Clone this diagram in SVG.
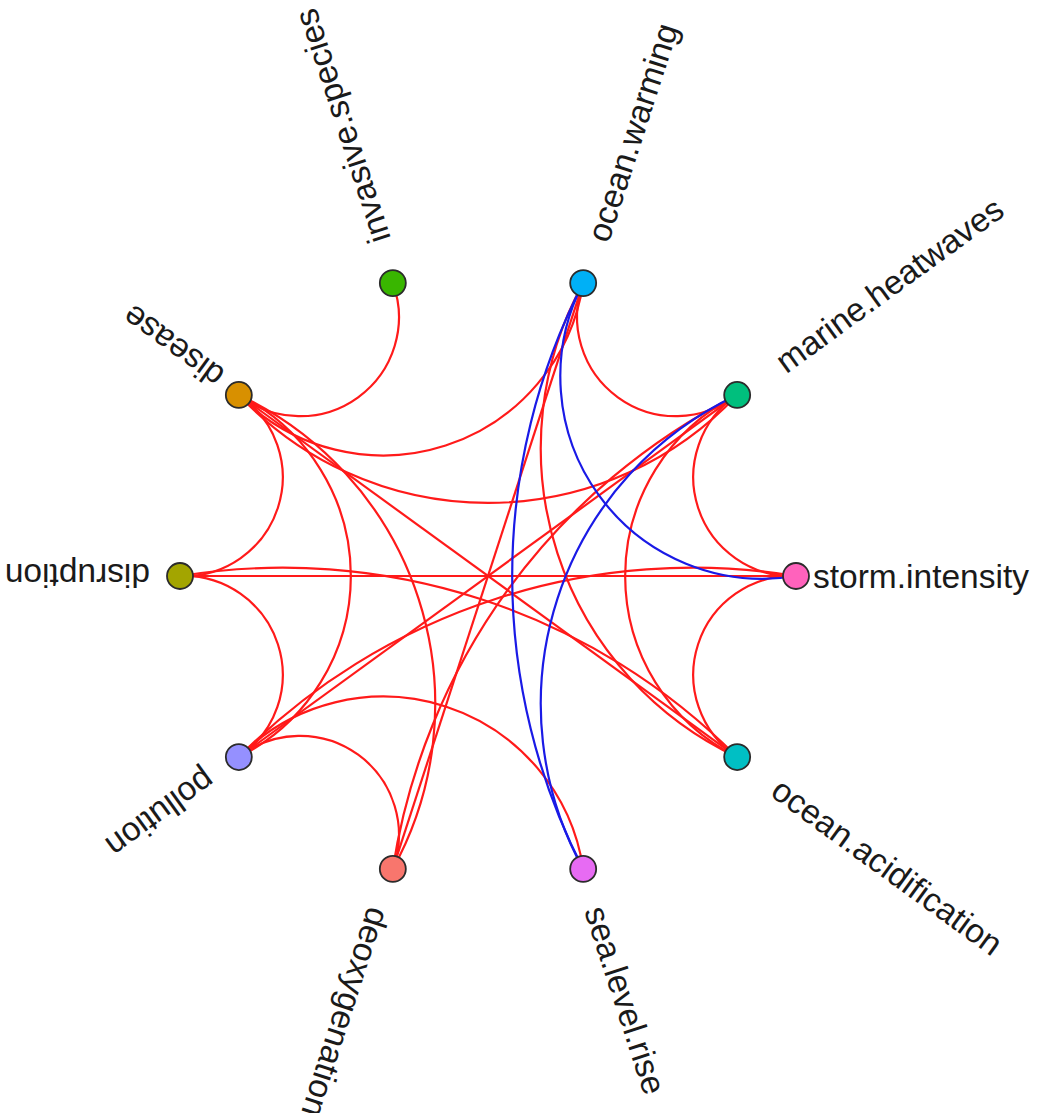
<svg xmlns="http://www.w3.org/2000/svg" width="1050" height="1113" viewBox="0 0 1050 1113">
<style>
.e{fill:none;stroke-width:2.2}
.r{stroke:#ff1a1a}
.b{stroke:#1a1ae6}
.n{stroke:#2b2b2b;stroke-width:1.8}
.l{font-family:"Liberation Sans",Arial,sans-serif;font-size:33.5px;fill:#1a1a1a}
</style>
<rect width="1050" height="1113" fill="#ffffff"/>
<g id="edges">
<path class="e r" d="M238.82,394.96 A98.9,98.9 0 0 0 392.82,283.07"/>
<path class="e r" d="M180,576 A98.9,98.9 0 0 0 238.82,394.96"/>
<path class="e r" d="M238.82,757.04 A202.3,202.3 0 0 0 238.82,394.96"/>
<path class="e r" d="M392.82,868.93 A341.5,341.5 0 0 0 238.82,394.96"/>
<path class="e r" d="M238.82,394.96 L737.18,757.04"/>
<path class="e r" d="M238.82,394.96 A341.5,341.5 0 0 0 737.18,394.96"/>
<path class="e r" d="M238.82,394.96 A202.3,202.3 0 0 0 583.18,283.07"/>
<path class="e r" d="M238.82,757.04 A98.9,98.9 0 0 0 180,576"/>
<path class="e r" d="M180,576 L796,576"/>
<path class="e r" d="M737.18,757.04 A639.8,639.8 0 0 0 180,576"/>
<path class="e r" d="M392.82,868.93 A98.9,98.9 0 0 0 238.82,757.04"/>
<path class="e r" d="M583.18,868.93 A202.3,202.3 0 0 0 238.82,757.04"/>
<path class="e r" d="M796,576 A639.8,639.8 0 0 0 238.82,757.04"/>
<path class="e r" d="M737.18,394.96 L238.82,757.04"/>
<path class="e r" d="M583.18,283.07 L392.82,868.93"/>
<path class="e r" d="M737.18,394.96 A639.8,639.8 0 0 0 392.82,868.93"/>
<path class="e r" d="M583.18,283.07 A98.9,98.9 0 0 0 737.18,394.96"/>
<path class="e r" d="M583.18,283.07 A341.5,341.5 0 0 0 737.18,757.04"/>
<path class="e r" d="M737.18,394.96 A98.9,98.9 0 0 0 796,576"/>
<path class="e r" d="M737.18,394.96 A202.3,202.3 0 0 0 737.18,757.04"/>
<path class="e r" d="M796,576 A98.9,98.9 0 0 0 737.18,757.04"/>
<path class="e b" d="M583.18,283.07 A202.3,202.3 0 0 0 796,576"/>
<path class="e b" d="M583.18,283.07 A639.8,639.8 0 0 0 583.18,868.93"/>
<path class="e b" d="M737.18,394.96 A341.5,341.5 0 0 0 583.18,868.93"/>
</g>
<g id="node-ocean-warming"><circle class="n" cx="583.18" cy="283.07" r="13" fill="#00B0F6"/><text class="l" transform="translate(583.18,283.07) rotate(-72)" x="45" dy="0.36em">ocean.warming</text></g>
<g id="node-marine-heatwaves"><circle class="n" cx="737.18" cy="394.96" r="13" fill="#00BF7D"/><text class="l" transform="translate(737.18,394.96) rotate(-36)" x="52" dy="0.36em">marine.heatwaves</text></g>
<g id="node-storm-intensity"><circle class="n" cx="796" cy="576" r="13" fill="#FF62BC"/><text class="l" transform="translate(796,576) rotate(0)" x="17" dy="0.36em">storm.intensity</text></g>
<g id="node-ocean-acidification"><circle class="n" cx="737.18" cy="757.04" r="13" fill="#00BFC4"/><text class="l" transform="translate(737.18,757.04) rotate(36)" x="48" dy="0.36em">ocean.acidification</text></g>
<g id="node-sea-level-rise"><circle class="n" cx="583.18" cy="868.93" r="13" fill="#E76BF3"/><text class="l" transform="translate(583.18,868.93) rotate(72)" x="40" dy="0.36em">sea.level.rise</text></g>
<g id="node-deoxygenation"><circle class="n" cx="392.82" cy="868.93" r="13" fill="#F8766D"/><text class="l" transform="translate(392.82,868.93) rotate(108)" x="42" dy="0.36em">deoxygenation</text></g>
<g id="node-pollution"><circle class="n" cx="238.82" cy="757.04" r="13" fill="#9590FF"/><text class="l" transform="translate(238.82,757.04) rotate(144)" x="34" dy="0.36em">pollution</text></g>
<g id="node-disruption"><circle class="n" cx="180" cy="576" r="13" fill="#A3A500"/><text class="l" transform="translate(180,576) rotate(180)" x="30" dy="0.36em">disruption</text></g>
<g id="node-disease"><circle class="n" cx="238.82" cy="394.96" r="13" fill="#D89000"/><text class="l" transform="translate(238.82,394.96) rotate(216)" x="24" dy="0.36em">disease</text></g>
<g id="node-invasive-species"><circle class="n" cx="392.82" cy="283.07" r="13" fill="#39B600"/><text class="l" transform="translate(392.82,283.07) rotate(252)" x="43" dy="0.36em">invasive.species</text></g>
</svg>
